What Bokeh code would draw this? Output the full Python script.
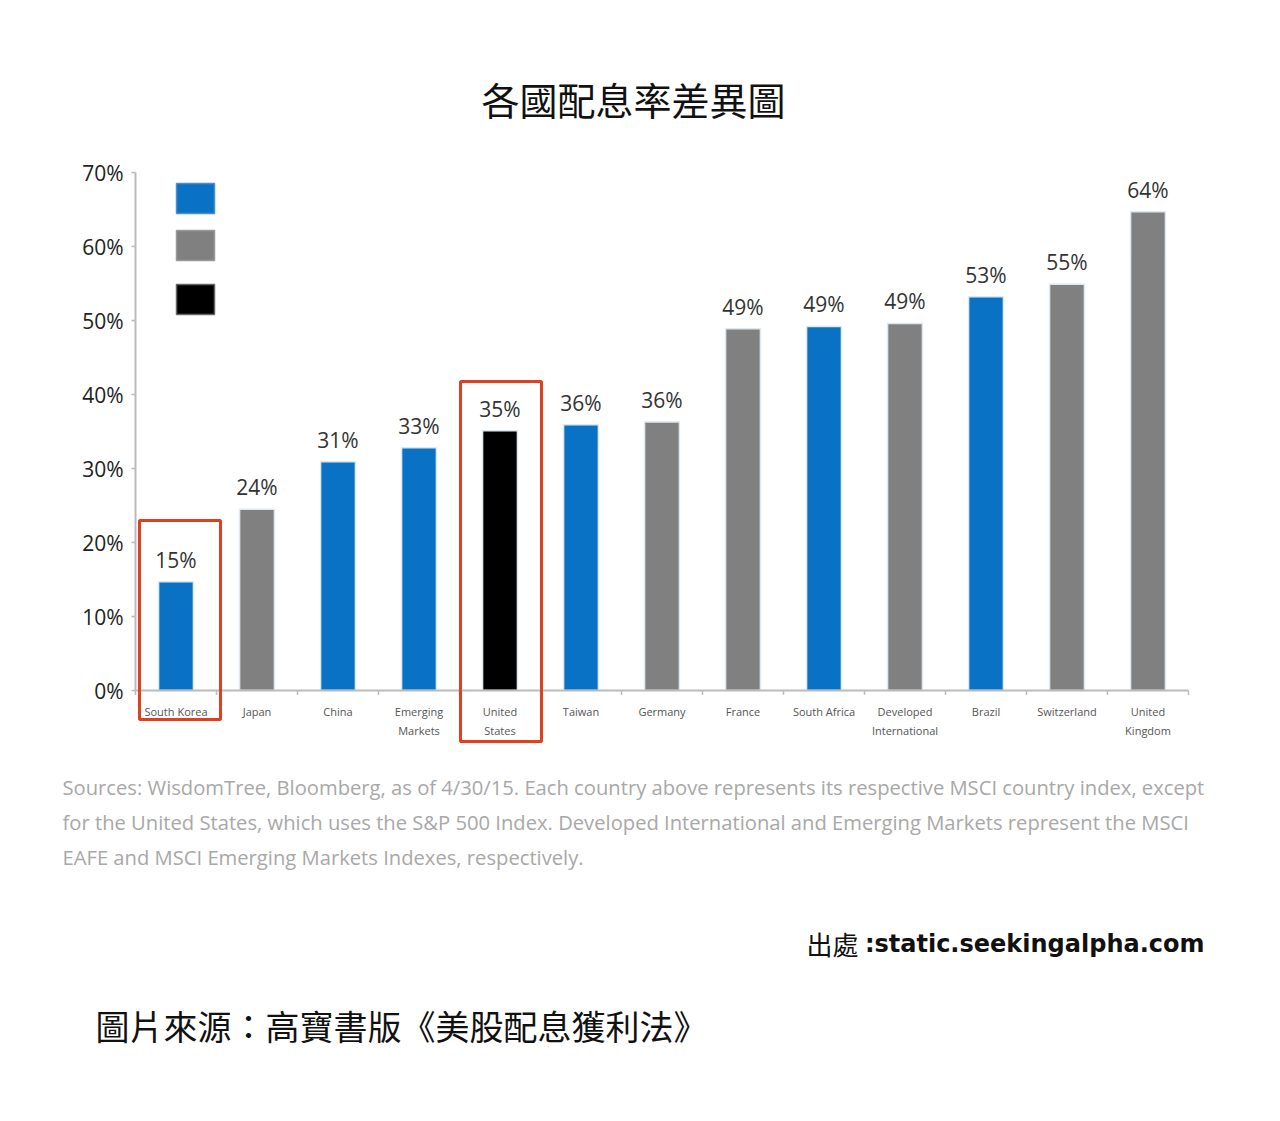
from bokeh.plotting import figure
from bokeh.models import Range1d
from bokeh.core.properties import value
from bokeh.embed import file_html
from bokeh.resources import INLINE

# data
countries = ["South Korea", "Japan", "China", "Emerging\nMarkets", "United\nStates", "Taiwan",
             "Germany", "France", "South Africa", "Developed\nInternational", "Brazil",
             "Switzerland", "United\nKingdom"]
payout = [14.7, 24.5, 30.9, 32.8, 35.1, 35.9, 36.3, 48.9, 49.2, 49.6, 53.2, 54.9, 64.7]
payout_labels = ["15%", "24%", "31%", "33%", "35%", "36%", "36%", "49%", "49%", "49%", "53%", "55%", "64%"]
group = ["em", "dev", "em", "em", "us", "em", "dev", "dev", "em", "dev", "em", "dev", "dev"]
y_ticks = [0, 10, 20, 30, 40, 50, 60, 70]

BLUE = "#0a72c4"
GRAY = "#808080"
BLACK = "#000000"
colors = {"em": BLUE, "dev": GRAY, "us": BLACK}

W, H = 1264, 1105
XU, YU = 81.0, 7.4   # pixels per category / per percent
X0, Y0 = 135, 690    # pixel position of the chart origin


def px(x):
    return (x - X0) / XU


def py(y):
    return (Y0 - y) / YU


# the frame covers the whole canvas, so every text can live inside it
p = figure(width=W, height=H, output_backend="svg", toolbar_location=None,
           x_range=Range1d(px(0), px(W)), y_range=Range1d(py(H), py(0)),
           min_border=0)
p.outline_line_color = None
p.grid.grid_line_color = None
p.axis.visible = False

font = value("Open Sans")
cjk = value("Noto Sans CJK TC")

# y axis
p.segment(x0=[0], y0=[0], x1=[0], y1=[70], line_color="#bbbbbb", line_width=2)
p.segment(x0=[0] * len(y_ticks), y0=y_ticks, x1=[-0.05] * len(y_ticks), y1=y_ticks,
          line_color="#bbbbbb", line_width=1.5)
p.text(x=[px(123)] * len(y_ticks), y=y_ticks, text=["%d%%" % t for t in y_ticks],
       text_font=font, text_font_size="21px", text_color="#222222",
       text_align="right", text_baseline="middle")

# bars
xs = [i + 0.5 for i in range(len(countries))]
bar_colors = [colors[g] for g in group]
p.vbar(x=xs, top=payout, bottom=0, width=0.43, fill_color=bar_colors,
       line_color="#dde8f0", line_width=1.5)

# x axis line with ticks between categories
p.segment(x0=[0], y0=[0], x1=[13], y1=[0], line_color="#bbbbbb", line_width=2)
p.segment(x0=list(range(14)), y0=[0] * 14, x1=list(range(14)), y1=[-0.6] * 14,
          line_color="#bbbbbb", line_width=1.5)

p.text(x=xs, y=[-1.8] * len(xs), text=countries, text_font=font,
       text_font_size="11px", text_color="#555555", text_align="center",
       text_baseline="top", text_line_height=1.25)

p.text(x=xs, y=payout, text=payout_labels, text_font=font,
       text_font_size="21px", text_color="#333333", text_align="center",
       text_baseline="bottom", y_offset=-8)

# red highlight boxes
p.quad(left=[px(139), px(460)], right=[px(220), px(541)],
       bottom=[py(719), py(741)], top=[py(520), py(381)],
       fill_color=None, line_color="#e0401f", line_width=3)

# legend swatches (their labels are blank in the picture)
p.quad(left=[px(176)] * 3, right=[px(214)] * 3,
       bottom=[py(213), py(260), py(314)], top=[py(183), py(230), py(284)],
       fill_color=[BLUE, GRAY, BLACK], line_color=["#4a90d0", "#999999", "#666666"],
       line_width=1.5)

# title
p.text(x=[px(633)], y=[py(98)], text=["各國配息率差異圖"], text_font=cjk,
       text_font_size="38px", text_font_style="normal", text_color="#111111",
       text_align="center", text_baseline="middle")

sources = ["Sources: WisdomTree, Bloomberg, as of 4/30/15. Each country above represents its respective MSCI country index, except",
           "for the United States, which uses the S&P 500 Index. Developed International and Emerging Markets represent the MSCI",
           "EAFE and MSCI Emerging Markets Indexes, respectively."]
p.text(x=[px(62)] * 3, y=[py(786), py(821), py(856)], text=sources, text_font=font,
       text_font_size="20.2px", text_color="#a8a8a8", text_baseline="middle")

p.text(x=[px(1204)], y=[py(943)], text=[":static.seekingalpha.com"],
       text_font=value("DejaVu Sans"), text_font_size="24px", text_font_style="bold",
       text_color="#111111", text_align="right", text_baseline="middle")
p.text(x=[px(858)], y=[py(943)], text=["出處"],
       text_font=cjk, text_font_size="26px",
       text_color="#111111", text_align="right", text_baseline="middle")

p.text(x=[px(95)], y=[py(1025)], text=["圖片來源：高寶書版《美股配息獲利法》"],
       text_font=cjk, text_font_size="34px", text_color="#111111",
       text_baseline="middle")

open("out.html", "w").write(file_html(p, INLINE))
